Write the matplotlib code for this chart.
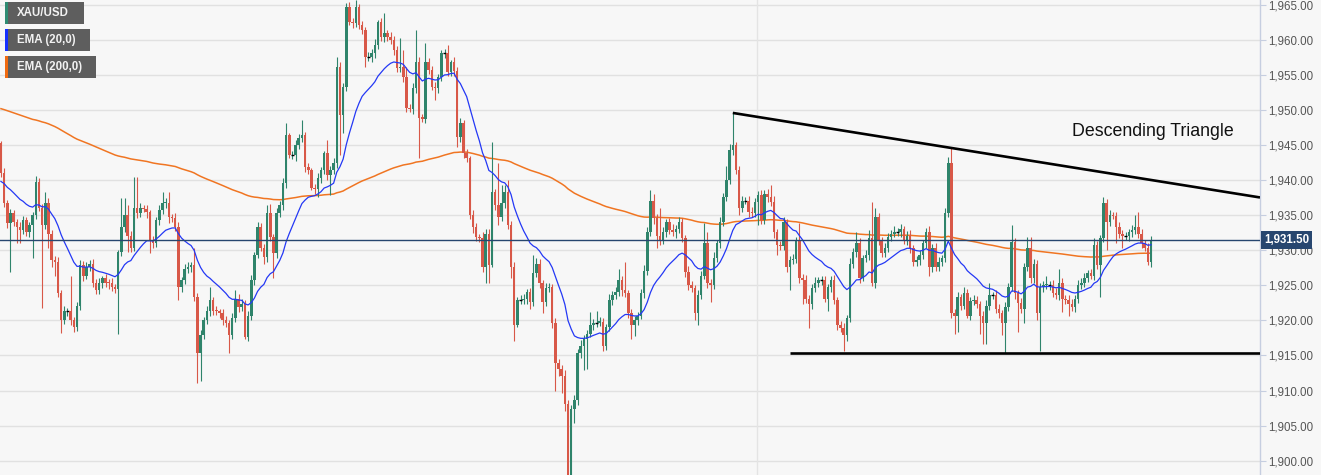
import matplotlib
matplotlib.use("Agg")
from matplotlib import pyplot as plt
from matplotlib.patches import Rectangle
import matplotlib.transforms as mtransforms

# XAU/USD candles (open of each candle = previous close)
first_open = 1945.3
closes = [
    1941.0, 1936.7, 1933.9, 1935.3, 1934.0, 1933.3, 1932.9, 1934.3, 1932.6, 1933.6,
    1935.0, 1939.7, 1936.1, 1933.6, 1936.7, 1932.4, 1928.6, 1928.3, 1923.9, 1920.0,
    1921.4, 1921.4, 1920.0, 1919.0, 1922.1, 1927.9, 1926.4, 1927.6, 1928.1, 1925.4,
    1924.3, 1925.3, 1926.0, 1925.4, 1925.3, 1924.7, 1924.5, 1929.7, 1933.3, 1935.0,
    1932.1, 1930.4, 1936.0, 1935.3, 1936.0, 1935.9, 1935.4, 1931.4, 1931.0, 1934.3,
    1935.7, 1936.7, 1936.8, 1934.7, 1934.6, 1933.3, 1924.7, 1925.7, 1927.4, 1927.6,
    1927.9, 1923.3, 1915.3, 1917.9, 1920.0, 1921.4, 1922.9, 1921.4, 1921.3, 1921.1,
    1920.0, 1919.6, 1917.9, 1920.3, 1923.1, 1921.9, 1922.4, 1917.6, 1920.7, 1925.7,
    1929.3, 1933.3, 1930.4, 1929.0, 1935.3, 1931.9, 1929.6, 1935.3, 1936.4, 1939.6,
    1946.4, 1943.6, 1943.6, 1945.0, 1946.0, 1946.4, 1941.9, 1941.4, 1938.9, 1938.7,
    1940.3, 1941.4, 1943.9, 1940.7, 1941.4, 1942.4, 1956.1, 1949.3, 1953.3, 1964.7,
    1962.6, 1962.4, 1964.7, 1962.1, 1961.4, 1957.6, 1957.6, 1958.1, 1959.3, 1962.6,
    1960.4, 1961.0, 1960.4, 1960.0, 1958.6, 1956.0, 1956.1, 1954.7, 1950.3, 1950.2,
    1953.1, 1956.9, 1948.9, 1948.8, 1956.9, 1955.7, 1953.3, 1953.1, 1954.7, 1958.1,
    1958.1, 1955.4, 1956.9, 1955.6, 1946.1, 1948.1, 1943.9, 1943.1, 1935.0, 1933.3,
    1931.9, 1931.8, 1927.6, 1932.4, 1927.9, 1938.3, 1936.4, 1934.7, 1936.7, 1938.3,
    1933.6, 1927.6, 1919.3, 1922.9, 1922.9, 1923.1, 1924.0, 1922.6, 1926.7, 1928.1,
    1925.3, 1922.6, 1924.6, 1924.7, 1919.6, 1913.9, 1913.1, 1912.1, 1908.1, 1898.0,
    1907.4, 1908.6, 1915.3, 1916.4, 1917.4, 1918.1, 1919.3, 1919.7, 1919.7, 1919.8,
    1916.4, 1919.0, 1922.9, 1923.6, 1924.0, 1925.7, 1924.3, 1923.9, 1921.0, 1919.3,
    1920.0, 1920.7, 1923.9, 1927.1, 1932.6, 1937.1, 1934.6, 1932.1, 1931.4, 1932.6,
    1934.0, 1932.9, 1932.6, 1933.1, 1934.0, 1931.7, 1926.9, 1925.0, 1924.6, 1921.1,
    1923.6, 1926.4, 1931.1, 1925.3, 1925.1, 1928.9, 1931.0, 1934.0, 1937.6, 1940.0,
    1944.3, 1945.0, 1941.4, 1936.1, 1937.1, 1937.1, 1935.4, 1935.3, 1936.9, 1937.9,
    1934.3, 1938.1, 1937.6, 1936.9, 1932.6, 1930.7, 1930.6, 1934.0, 1927.6, 1928.6,
    1928.7, 1931.4, 1926.0, 1925.8, 1923.1, 1922.4, 1924.6, 1925.4, 1925.7, 1925.7,
    1923.1, 1924.7, 1925.7, 1922.9, 1919.3, 1918.9, 1917.9, 1920.3, 1928.1, 1929.7,
    1931.1, 1926.1, 1928.9, 1929.3, 1931.7, 1925.4, 1934.7, 1931.4, 1929.6, 1930.4,
    1931.9, 1932.4, 1932.6, 1932.6, 1933.0, 1931.4, 1932.1, 1930.3, 1928.3, 1928.6,
    1929.3, 1931.0, 1932.6, 1927.6, 1930.4, 1927.6, 1928.4, 1928.9, 1935.3, 1942.4,
    1921.0, 1920.6, 1923.3, 1922.1, 1923.9, 1920.7, 1922.8, 1922.9, 1922.3, 1920.7,
    1919.7, 1922.1, 1923.6, 1923.6, 1921.7, 1921.0, 1919.7, 1921.9, 1924.7, 1931.2,
    1923.9, 1922.5, 1921.7, 1927.6, 1930.4, 1926.0, 1928.1, 1921.1, 1924.7, 1925.0,
    1925.1, 1925.1, 1923.9, 1923.6, 1925.4, 1923.1, 1922.9, 1922.4, 1921.9, 1923.1,
    1925.0, 1925.4, 1926.1, 1926.7, 1926.4, 1930.7, 1927.9, 1931.7, 1936.7, 1934.0,
    1935.0, 1934.9, 1933.3, 1932.4, 1932.0, 1932.0, 1932.6, 1932.9, 1933.3, 1932.4,
    1931.0, 1930.4, 1928.3, 1931.5,
]

# wick lengths above / below the body
up_wick = [
    0.3, 0.8, 0.5, 0.6, 0.4, 0.5, 0.7, 0.6, 0.5, 0.4,
    0.5, 0.9, 0.6, 0.5, 1.6, 0.7, 0.5, 0.6, 0.8, 0.4,
    0.6, 0.4, 5.0, 0.5, 0.5, 0.7, 0.6, 0.8, 0.5, 0.6,
    0.5, 0.8, 0.4, 0.6, 0.5, 0.7, 0.5, 0.4, 4.1, 2.4,
    1.5, 0.6, 4.5, 4.4, 0.8, 0.5, 0.6, 0.4, 0.7, 0.5,
    0.8, 1.6, 0.6, 1.5, 0.5, 0.7, 0.8, 0.5, 0.6, 0.7,
    0.5, 2.5, 0.6, 0.8, 0.5, 0.7, 1.8, 0.5, 0.6, 0.4,
    0.5, 0.6, 0.4, 0.8, 1.2, 0.6, 0.7, 0.5, 0.6, 0.8,
    0.5, 0.7, 0.6, 0.5, 1.1, 1.3, 0.5, 0.8, 0.6, 0.7,
    1.7, 0.4, 0.6, 0.8, 0.6, 2.2, 0.5, 0.6, 0.4, 0.5,
    0.7, 0.5, 0.3, 1.8, 0.6, 0.8, 1.5, 0.7, 0.6, 0.6,
    0.7, 0.5, 1.0, 0.4, 0.6, 0.5, 0.7, 0.6, 0.8, 0.3,
    0.6, 2.9, 0.5, 0.8, 0.6, 0.5, 4.2, 2.5, 1.5, 0.6,
    0.8, 4.5, 0.7, 0.6, 2.7, 0.5, 0.6, 0.7, 0.5, 0.5,
    0.6, 1.2, 0.2, 0.7, 0.6, 0.8, 0.5, 0.6, 0.4, 0.7,
    0.6, 0.5, 0.8, 0.6, 0.7, 7.2, 0.5, 6.0, 2.6, 1.0,
    1.7, 0.6, 0.8, 0.5, 0.7, 0.6, 0.5, 0.6, 2.6, 0.8,
    0.7, 0.5, 0.8, 0.6, 0.5, 0.7, 0.6, 0.5, 0.8, 0.6,
    0.5, 0.7, 0.6, 0.8, 0.5, 0.6, 1.9, 0.5, 1.6, 0.7,
    0.6, 0.5, 0.8, 0.6, 0.7, 1.7, 0.6, 4.0, 0.5, 0.6,
    0.7, 0.5, 0.6, 0.8, 0.7, 1.5, 1.0, 0.6, 3.9, 0.7,
    0.5, 0.6, 0.8, 0.5, 0.7, 0.6, 0.5, 0.8, 0.6, 0.5,
    0.7, 0.6, 2.8, 1.5, 0.6, 0.8, 0.5, 0.7, 0.6, 2.1,
    0.8, 4.6, 0.4, 0.6, 0.7, 0.5, 0.6, 0.8, 0.5, 0.6,
    0.7, 0.5, 0.6, 1.7, 0.8, 0.5, 0.6, 0.7, 0.5, 0.6,
    0.8, 0.5, 2.5, 0.6, 0.7, 0.5, 0.6, 0.8, 0.5, 0.6,
    0.7, 0.5, 0.6, 0.8, 0.5, 0.6, 0.7, 0.5, 0.8, 0.6,
    1.5, 0.6, 0.5, 0.7, 1.2, 5.2, 1.4, 0.6, 0.5, 0.7,
    0.6, 0.5, 0.8, 0.6, 0.7, 0.5, 0.6, 0.8, 0.5, 0.6,
    0.7, 0.5, 0.6, 0.8, 0.5, 0.7, 0.6, 0.5, 0.8, 0.9,
    2.2, 0.6, 0.7, 0.5, 0.8, 0.6, 0.5, 0.7, 0.6, 0.5,
    0.6, 0.8, 1.8, 0.5, 0.7, 0.6, 0.5, 0.8, 0.7, 2.4,
    0.6, 0.5, 0.7, 0.6, 1.5, 1.5, 0.6, 0.5, 0.7, 0.6,
    1.3, 0.5, 0.6, 0.7, 2.0, 0.6, 0.5, 0.7, 0.6, 0.5,
    0.8, 0.6, 0.7, 0.5, 0.6, 1.0, 0.7, 0.5, 0.9, 0.6,
    0.8, 0.5, 0.6, 0.7, 0.5, 0.6, 0.5, 0.7, 1.7, 2.1,
    0.6, 0.5, 0.7, 0.5,
]
dn_wick = [
    0.6, 0.5, 0.7, 7.0, 0.5, 2.3, 1.9, 0.6, 0.5, 0.7,
    4.7, 0.6, 0.5, 11.8, 0.6, 2.0, 1.0, 1.9, 0.6, 1.8,
    0.5, 0.7, 0.6, 0.7, 0.5, 0.6, 0.8, 0.5, 0.6, 0.7,
    0.6, 0.5, 0.7, 0.6, 0.8, 0.5, 0.6, 6.4, 0.5, 0.7,
    2.4, 0.6, 0.5, 0.7, 0.6, 0.5, 0.8, 1.8, 0.6, 0.5,
    0.7, 0.5, 0.6, 0.8, 0.5, 0.6, 1.8, 0.7, 0.5, 0.6,
    0.7, 0.5, 4.2, 4.0, 0.6, 0.5, 0.7, 0.6, 0.5, 0.8,
    0.6, 0.5, 2.5, 0.6, 0.5, 0.7, 0.6, 0.3, 0.5, 0.7,
    0.6, 0.4, 0.5, 0.9, 0.6, 0.5, 3.6, 0.7, 0.5, 0.6,
    0.7, 0.5, 0.6, 0.8, 0.5, 0.6, 0.7, 0.5, 0.3, 0.6,
    1.1, 0.7, 0.5, 0.6, 2.8, 0.5, 0.7, 5.7, 2.6, 0.6,
    0.5, 0.7, 0.6, 0.5, 0.5, 1.5, 0.6, 0.7, 0.7, 0.6,
    0.5, 0.7, 0.6, 0.5, 0.8, 0.6, 0.5, 0.7, 0.6, 0.5,
    0.7, 0.6, 5.8, 0.5, 0.7, 0.6, 0.5, 1.7, 0.6, 0.5,
    0.7, 0.6, 0.5, 0.8, 1.4, 0.6, 0.7, 0.5, 0.6, 0.8,
    0.5, 0.6, 0.7, 2.2, 2.5, 0.3, 0.6, 1.1, 0.5, 0.7,
    0.6, 1.5, 2.2, 0.3, 0.6, 0.5, 0.7, 0.9, 0.6, 0.5,
    0.7, 1.5, 0.6, 0.5, 0.7, 3.9, 1.0, 2.5, 1.0, 4.0,
    2.0, 2.0, 0.7, 0.6, 3.5, 4.3, 0.5, 0.7, 0.6, 0.5,
    0.8, 0.6, 0.5, 0.7, 0.6, 0.5, 0.8, 0.6, 0.7, 1.9,
    1.5, 0.6, 0.5, 0.7, 0.6, 0.5, 0.8, 1.7, 0.6, 0.5,
    0.7, 0.6, 0.5, 0.8, 0.6, 0.5, 0.7, 0.6, 0.5, 1.1,
    1.8, 0.6, 0.5, 0.7, 2.5, 0.6, 0.5, 0.7, 0.6, 0.5,
    0.6, 0.7, 0.5, 1.1, 0.6, 0.5, 0.7, 0.6, 0.5, 3.3,
    0.6, 0.5, 0.7, 0.6, 0.9, 1.4, 0.6, 0.5, 0.7, 3.3,
    0.6, 0.5, 0.7, 3.4, 0.6, 3.5, 0.7, 0.5, 0.6, 0.7,
    0.5, 1.7, 0.6, 0.5, 0.7, 0.6, 2.2, 0.8, 0.5, 0.6,
    0.7, 0.7, 0.5, 0.6, 0.7, 0.5, 0.8, 0.6, 0.6, 0.5,
    0.7, 0.6, 0.5, 0.6, 0.7, 0.5, 0.6, 0.7, 0.5, 0.6,
    0.7, 0.5, 0.6, 1.2, 0.7, 0.6, 0.5, 0.7, 0.6, 0.5,
    0.6, 2.5, 2.3, 0.6, 0.5, 0.3, 0.7, 0.6, 0.5, 2.6,
    3.0, 3.0, 0.6, 0.5, 0.7, 0.6, 1.8, 4.4, 0.6, 0.5,
    0.8, 4.2, 0.6, 2.1, 0.5, 0.7, 0.6, 1.1, 5.4, 0.6,
    0.5, 0.7, 0.6, 0.5, 0.7, 1.9, 0.6, 1.8, 0.5, 0.7,
    0.6, 0.5, 0.7, 0.6, 0.5, 0.7, 0.6, 4.6, 0.5, 4.0,
    0.6, 0.5, 2.2, 0.7, 1.6, 0.5, 0.6, 0.7, 0.5, 0.6,
    0.7, 0.5, 0.4, 0.7,
]

ema20_start = 1939.7    # EMA values just before the first visible candle
ema200_start = 1950.3
last_price = 1931.5

# descending triangle: resistance through two highs, flat support
resist_pts = [(231, 1949.6), (300, 1944.6)]
support_start = 249
support_level = 1915.4
session_break = 238.6

price_ticks = list(range(1900, 1966, 5))

GREEN = "#2f846b"
RED = "#d85848"

n = len(closes)
opens = [first_open] + closes[:-1]
highs = [max(o, c) + u for o, c, u in zip(opens, closes, up_wick)]
lows = [min(o, c) - d for o, c, d in zip(opens, closes, dn_wick)]

def ema(values, start, span):
    a = 2.0 / (span + 1)
    out, prev = [], start
    for v in values:
        prev = prev + a * (v - prev)
        out.append(prev)
    return out

ema20 = ema(closes, ema20_start, 20)
ema200 = ema(closes, ema200_start, 200)

W, H = 1321, 475
fig = plt.figure(figsize=(W / 100, H / 100), dpi=100)
fig.patch.set_facecolor("#f7f7f7")
ax = fig.add_axes([0, 0, 1260 / W, 1])
ax.set_facecolor("#f7f7f7")

xs = list(range(n))
xmax = 397.4
ax.set_xlim(-0.3, xmax)
ax.set_ylim(1897.95, 1965.71)

# grid
for p in price_ticks:
    ax.axhline(p, color="#e1e1e1", lw=1.0, zorder=0)
ax.axvline(session_break, color="#e4e4e4", lw=1.0, zorder=0)

# EMAs
ax.plot(xs, ema200, color="#f07522", lw=1.1, zorder=2)
ax.plot(xs, ema20, color="#2438f5", lw=0.9, zorder=4)

# candles
for i in range(n):
    o, c = opens[i], closes[i]
    if c > o:
        col = GREEN
    elif c < o:
        col = RED
    else:
        col = "black"
    ax.vlines(i, lows[i], highs[i], color=col if col != "black" else GREEN, lw=0.8, zorder=3)
    if col == "black":
        ax.hlines(c, i - 0.45, i + 0.45, color="black", lw=1.0, zorder=3)
    else:
        b = min(o, c)
        h = max(abs(c - o), 0.15)
        ax.add_patch(Rectangle((i - 0.4, b), 0.8, h, facecolor=col,
                               edgecolor="none", zorder=3))

# current price line
ax.axhline(last_price, color="#27466f", lw=1.0, zorder=5)

# triangle
(x1, y1), (x2, y2) = resist_pts
slope = (y2 - y1) / (x2 - x1)
ax.plot([x1, xmax], [y1, y1 + slope * (xmax - x1)], color="black", lw=1.9,
        zorder=6, solid_capstyle="butt")
ax.plot([support_start, xmax], [support_level, support_level], color="black",
        lw=1.9, zorder=6, solid_capstyle="butt")
ax.text(338, 1947.0, "Descending Triangle", fontsize=12.8, family="Liberation Sans",
        color="#111111", va="center", ha="left", zorder=7)

# right price axis
for s in ["top", "left", "bottom"]:
    ax.spines[s].set_visible(False)
ax.spines["right"].set_color("#c6cee0")
ax.spines["right"].set_linewidth(1.0)
ax.yaxis.tick_right()
ax.set_yticks(price_ticks)
ax.set_yticklabels(["{:,.2f}".format(p) for p in price_ticks],
                   fontsize=8.3, family="Liberation Sans", color="#555555")
ax.tick_params(axis="y", length=4, width=0.8, color="#c6cee0", pad=2)
ax.set_xticks([])

trans = mtransforms.blended_transform_factory(ax.transAxes, ax.transData)
ax.text(1.003, last_price, "{:,.2f}".format(last_price), transform=trans,
        fontsize=8.3, family="Liberation Sans", fontweight="bold", color="white",
        va="center", ha="left", zorder=10, clip_on=False,
        bbox=dict(boxstyle="square,pad=0.25", facecolor="#27466f", edgecolor="none"))

# legend boxes (top left)
legend = [("XAU/USD", "#2e8b72", 2, 24, 84), ("EMA (20,0)", "#1530ff", 29, 51, 90),
          ("EMA (200,0)", "#f06a10", 56, 78, 96)]
for label, col, top, bot, right in legend:
    fig.patches.append(Rectangle((5 / W, 1 - bot / H), (right - 5) / W, (bot - top) / H,
                                 transform=fig.transFigure, facecolor="#5e5e5e",
                                 edgecolor="none", zorder=20))
    fig.patches.append(Rectangle((5 / W, 1 - bot / H), 3 / W, (bot - top) / H,
                                 transform=fig.transFigure, facecolor=col,
                                 edgecolor="none", zorder=21))
    fig.text(17 / W, 1 - (top + bot) / 2 / H, label, fontsize=8.3,
             family="Liberation Sans", fontweight="bold", color="#f2f2f2",
             va="center", ha="left", zorder=22)

fig.savefig("out.png", dpi=100, facecolor=fig.get_facecolor())
